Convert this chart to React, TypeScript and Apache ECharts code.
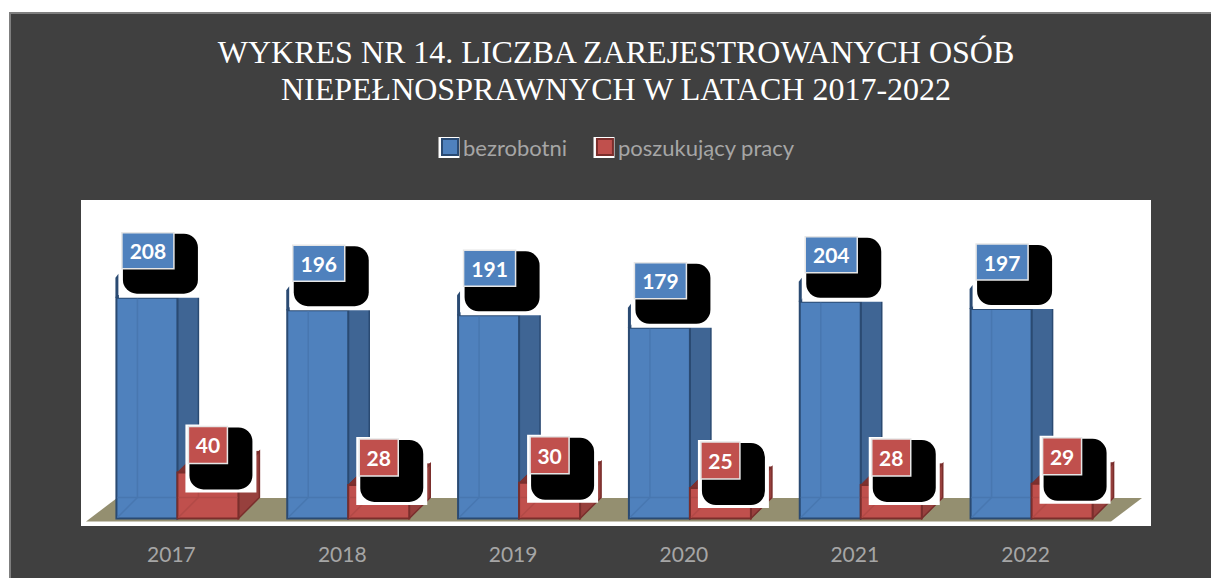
import React, { useEffect, useRef } from "react";
import * as echarts from "echarts";

const years = ["2017", "2018", "2019", "2020", "2021", "2022"];
const bezrobotni = [208, 196, 191, 179, 204, 197];
const poszukujacy = [40, 28, 30, 25, 28, 29];
const titleText = "WYKRES NR 14. LICZBA ZAREJESTROWANYCH OSÓB\nNIEPEŁNOSPRAWNYCH W LATACH 2017-2022";
const FONT = "Lato, Carlito, sans-serif";

type Palette = { front: string; border: string; side: string; top: string; inner: string };
const BLUE: Palette = { front: "#4f81bd", border: "#2a4a72", side: "#3f6594", top: "#2f5384", inner: "#4877b0" };
const RED: Palette = { front: "#c0504d", border: "#7a2e2c", side: "#97403d", top: "#7f302e", inner: "#b24a47" };

const makeBars = (palette: Palette, xFrom: number, isBlue: boolean) => (_p: any, api: any) => {
  const [cx, topRaw] = api.coord([api.value(0), api.value(1)]);
  const [, zero] = api.coord([api.value(0), 0]);
  const value = api.value(1);
  const w = 61;
  const depth = 21;
  const l = cx + xFrom;
  const r = l + w;
  const t = topRaw;
  const b = zero + 4.5;
  const line = (x1: number, y1: number, x2: number, y2: number, stroke: string, lineWidth = 1.5) => ({
    type: "line",
    shape: { x1, y1, x2, y2 },
    style: { stroke, lineWidth },
  });
  const children: any[] = [
    {
      type: "polygon",
      shape: { points: [[r, t], [r + depth, t - depth], [r + depth, b - depth], [r, b]] },
      style: { fill: palette.side, stroke: palette.border, lineWidth: 1.5 },
    },
    {
      type: "polygon",
      shape: { points: [[l, t], [r, t], [r + depth, t - depth], [l + depth, t - depth]] },
      style: { fill: palette.top, stroke: palette.border, lineWidth: 1 },
    },
    {
      type: "rect",
      shape: { x: l, y: t, width: w, height: b - t },
      style: { fill: palette.front, stroke: palette.border, lineWidth: 2 },
    },
    line(l + depth, t + 1, l + depth, b - depth, palette.inner),
    line(l + 1, b - depth, r - 1, b - depth, palette.inner),
    line(l + 1, b - 1, l + depth, b - depth, palette.inner),
  ];

  if (isBlue) {
    const lx = l + 5.5;
    const ly = t - 65;
    children.push(
      {
        type: "polygon",
        shape: { points: [[l - 1, t], [l - 1, t - 20], [l + 2, t - 24], [l + 2, t]] },
        style: { fill: palette.border },
      },
      { type: "rect", shape: { x: lx - 3, y: ly, width: 81, height: 65 }, style: { fill: "#ffffff" } },
      { type: "rect", shape: { x: lx + 1, y: ly + 1, width: 75, height: 60, r: 14 }, style: { fill: "#000000" } },
      {
        type: "rect",
        shape: { x: lx, y: ly, width: 52, height: 36 },
        style: { fill: palette.front, stroke: "#e6e6e6", lineWidth: 1.5 },
      },
      {
        type: "text",
        style: {
          text: String(value), x: lx + 26, y: ly + 18, align: "center", verticalAlign: "middle",
          fill: "#ffffff", font: `bold 21px ${FONT}`,
        },
      },
    );
  } else {
    const lx = l + 11;
    const ly = t - 46;
    children.push(
      { type: "rect", shape: { x: lx - 3, y: ly - 2, width: 71, height: 68 }, style: { fill: "#ffffff" } },
      { type: "rect", shape: { x: lx + 1, y: ly + 1, width: 63, height: 62, r: 14 }, style: { fill: "#000000" } },
      {
        type: "rect",
        shape: { x: lx, y: ly, width: 39, height: 37 },
        style: { fill: palette.front, stroke: "#e6e6e6", lineWidth: 1.5 },
      },
      {
        type: "text",
        style: {
          text: String(value), x: lx + 19.5, y: ly + 18.5, align: "center", verticalAlign: "middle",
          fill: "#ffffff", font: `bold 21px ${FONT}`,
        },
      },
    );
  }
  return { type: "group", children };
};

const renderFloor = (_p: any, api: any) => {
  const band = api.size([1, 0])[0];
  const [x0, zero] = api.coord([0, 0]);
  const [x1] = api.coord([years.length - 1, 0]);
  const left = x0 - band / 2;
  const right = x1 + band / 2;
  const bottom = zero + 7.5;
  const top = zero - 16;
  return {
    type: "polygon",
    shape: { points: [[left, bottom], [right, bottom], [right + 31, top], [left + 31, top]] },
    style: { fill: "#948f70" },
  };
};

export default function App() {
  const ref = useRef<HTMLDivElement>(null);
  useEffect(() => {
    const chart = echarts.init(ref.current!, null, { renderer: "svg" });
    chart.setOption({
      animation: false,
      backgroundColor: "#ffffff",
      title: {
        text: titleText,
        left: 611,
        top: 28,
        textAlign: "center",
        textStyle: {
          color: "#ffffff", fontFamily: "Liberation Serif", fontWeight: "normal", fontSize: 32, lineHeight: 37,
        },
      },
      legend: {
        left: 441,
        top: 136,
        padding: 0,
        itemWidth: 16,
        itemHeight: 16,
        itemGap: 29,
        textStyle: { color: "#a6a6a6", fontFamily: FONT, fontSize: 22 },
        data: [
          { name: "bezrobotni", icon: "rect", itemStyle: { color: BLUE.front, borderColor: BLUE.border, borderWidth: 2 } },
          { name: "poszukujący pracy", icon: "rect", itemStyle: { color: RED.front, borderColor: RED.border, borderWidth: 2 } },
        ],
      },
      grid: { left: 86, top: 202, width: 1025, height: 312 },
      xAxis: {
        type: "category",
        data: years,
        axisLine: { show: false },
        axisTick: { show: false },
        axisLabel: { color: "#a6a6a6", fontFamily: FONT, fontSize: 21, margin: 29 },
      },
      yAxis: { type: "value", min: 0, max: 300, show: false },
      graphic: [
        { type: "rect", z: -2, shape: { x: 9, y: 12, width: 1202, height: 566 }, style: { fill: "#7f7f7f" } },
        { type: "rect", z: -1, shape: { x: 11, y: 14, width: 1200, height: 564 }, style: { fill: "#404040" } },
        { type: "rect", z: 0, shape: { x: 81, y: 200, width: 1070, height: 326 }, style: { fill: "#ffffff" } },
        { type: "rect", z: 0, shape: { x: 438.5, y: 137, width: 21, height: 21 }, style: { fill: "#ffffff" } },
        { type: "rect", z: 0, shape: { x: 593.5, y: 137, width: 21, height: 21 }, style: { fill: "#ffffff" } },
      ],
      series: [
        {
          type: "custom", name: "podłoga", z: 1, silent: true, clip: false,
          data: [[0, 0]], encode: { x: 0, y: 1 }, renderItem: renderFloor,
        },
        {
          type: "custom", name: "bezrobotni", z: 2, clip: false,
          itemStyle: { color: BLUE.front },
          data: bezrobotni.map((v, i) => [i, v]), encode: { x: 0, y: 1 },
          renderItem: makeBars(BLUE, -55, true),
        },
        {
          type: "custom", name: "poszukujący pracy", z: 3, clip: false,
          itemStyle: { color: RED.front },
          data: poszukujacy.map((v, i) => [i, v]), encode: { x: 0, y: 1 },
          renderItem: makeBars(RED, 6, false),
        },
      ],
    });
    return () => chart.dispose();
  }, []);
  return <div ref={ref} style={{ position: "absolute", left: 0, top: 0, width: 1211, height: 578 }} />;
}
